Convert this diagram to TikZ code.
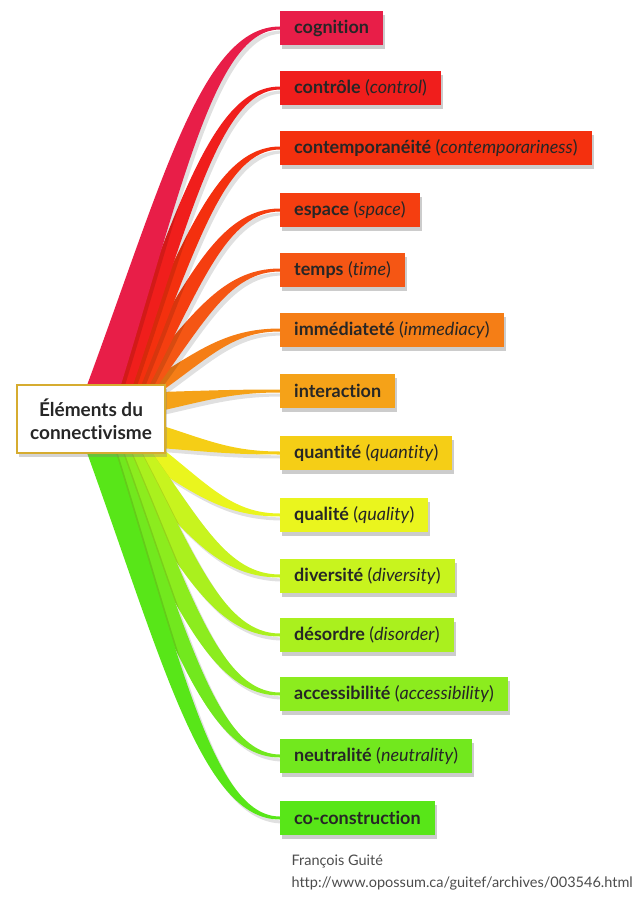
\documentclass[tikz,border=0pt]{standalone}
\usepackage{fontspec}
\setmainfont{Lato}[Ligatures=NoCommon]
\usetikzlibrary{calc,shadows}

\definecolor{ccogn}{RGB}{232,30,72}
\definecolor{cctrl}{RGB}{240,30,28}
\definecolor{cconT}{RGB}{244,48,14}
\definecolor{cespa}{RGB}{245,62,16}
\definecolor{ctemp}{RGB}{245,86,20}
\definecolor{cimme}{RGB}{245,126,22}
\definecolor{cinte}{RGB}{245,162,24}
\definecolor{cquan}{RGB}{245,206,22}
\definecolor{cqual}{RGB}{234,245,30}
\definecolor{cdive}{RGB}{200,244,30}
\definecolor{cdeso}{RGB}{170,240,30}
\definecolor{cacce}{RGB}{140,236,30}
\definecolor{cneut}{RGB}{114,232,30}
\definecolor{ccocon}{RGB}{88,230,24}
\definecolor{hubgold}{RGB}{214,172,48}

\pgfdeclarelayer{bg}
\pgfsetlayers{bg,main}

\newcommand{\trad}[1]{{\mdseries(\textit{#1})}}

% tapered ribbon from two base points to two end points
\newcommand{\ribbon}[5]{%
  \begin{scope}[transform canvas={shift={(3pt,-4pt)}}]
    \fill[black, opacity=0.12] let \p1=(#2), \p2=(#4), \p3=(#3), \p4=(#5) in
      (\p1) .. controls ({\x1+0.4*(\x2-\x1)},{\y1+0.58*(\y2-\y1)}) and ({\x1+0.6*(\x2-\x1)},\y2) .. (\p2)
      -- (\p4) .. controls ({\x3+0.6*(\x4-\x3)},\y4) and ({\x3+0.4*(\x4-\x3)},{\y3+0.58*(\y4-\y3)}) .. (\p3) -- cycle;
  \end{scope}
  \fill[#1] let \p1=(#2), \p2=(#4), \p3=(#3), \p4=(#5) in
    (\p1) .. controls ({\x1+0.4*(\x2-\x1)},{\y1+0.58*(\y2-\y1)}) and ({\x1+0.6*(\x2-\x1)},\y2) .. (\p2)
    -- (\p4) .. controls ({\x3+0.6*(\x4-\x3)},\y4) and ({\x3+0.4*(\x4-\x3)},{\y3+0.58*(\y4-\y3)}) .. (\p3) -- cycle;
}

\tikzset{
  elembox/.style={fill=#1, anchor=west, minimum height=34, inner xsep=14, inner ysep=0,
    text=black!85, font=\fontsize{18}{20}\selectfont\bfseries,
    drop shadow={shadow xshift=2pt, shadow yshift=-4pt, opacity=0.4}},
  hubbox/.style={fill=white, draw=hubgold, line width=2, minimum width=148, minimum height=68,
    align=center, text=black!85, font=\fontsize{19}{23}\selectfont\bfseries,
    drop shadow={shadow xshift=2pt, shadow yshift=-4pt, opacity=0.35}},
}

\begin{document}
\begin{tikzpicture}[x=1pt, y=-1pt]
    \useasboundingbox (0,0) rectangle (635,899);

    \node[hubbox] (hub) at (91,419) {Éléments du\\connectivisme};

    \node[elembox=ccogn]  (n1)  at (280,28)  {cognition};
    \node[elembox=cctrl]  (n2)  at (280,88)  {contrôle \trad{control}};
    \node[elembox=cconT]  (n3)  at (280,148) {contemporanéité \trad{contemporariness}};
    \node[elembox=cespa]  (n4)  at (280,210) {espace \trad{space}};
    \node[elembox=ctemp]  (n5)  at (280,270) {temps \trad{time}};
    \node[elembox=cimme]  (n6)  at (280,330) {immédiateté \trad{immediacy}};
    \node[elembox=cinte]  (n7)  at (280,391) {interaction};
    \node[elembox=cquan]  (n8)  at (280,453) {quantité \trad{quantity}};
    \node[elembox=cqual]  (n9)  at (280,515) {qualité \trad{quality}};
    \node[elembox=cdive]  (n10) at (280,576) {diversité \trad{diversity}};
    \node[elembox=cdeso]  (n11) at (280,635) {désordre \trad{disorder}};
    \node[elembox=cacce]  (n12) at (280,694) {accessibilité \trad{accessibility}};
    \node[elembox=cneut]  (n13) at (280,756) {neutralité \trad{neutrality}};
    \node[elembox=ccocon] (n14) at (280,818) {co-construction};

    % base points of the ribbons, under the hub
    \coordinate (a1) at (86,388);   \coordinate (b1) at (120,388);
    \coordinate (a2) at (108,388);  \coordinate (b2) at (132,388);
    \coordinate (a3) at (116,388);  \coordinate (b3) at (140,388);
    \coordinate (a4) at (123,388);  \coordinate (b4) at (148,388);
    \coordinate (a5) at (130,388);  \coordinate (b5) at (156,388);
    \coordinate (a6) at (138,388);  \coordinate (b6) at (166,388);
    \coordinate (a7) at (160,392);  \coordinate (b7) at (160,411);
    \coordinate (a8) at (160,425);  \coordinate (b8) at (160,448);
    \coordinate (a9) at (126,450);  \coordinate (b9) at (164,450);
    \coordinate (a10) at (112,450); \coordinate (b10) at (150,450);
    \coordinate (a11) at (105,450); \coordinate (b11) at (140,450);
    \coordinate (a12) at (98,450);  \coordinate (b12) at (130,450);
    \coordinate (a13) at (92,450);  \coordinate (b13) at (122,450);
    \coordinate (a14) at (86,450);  \coordinate (b14) at (115,450);

    \begin{pgfonlayer}{bg}
    \ribbon{cinte}{a7}{b7}{$(n7.west)+(0,-1.5)$}{$(n7.west)+(0,1.5)$}
    \ribbon{cquan}{a8}{b8}{$(n8.west)+(0,-1.5)$}{$(n8.west)+(0,1.5)$}
    \ribbon{cimme}{a6}{b6}{$(n6.west)+(0,-1.5)$}{$(n6.west)+(0,1.5)$}
    \ribbon{cqual}{a9}{b9}{$(n9.west)+(0,1.5)$}{$(n9.west)+(0,-1.5)$}
    \ribbon{ctemp}{a5}{b5}{$(n5.west)+(0,-1.5)$}{$(n5.west)+(0,1.5)$}
    \ribbon{cdive}{a10}{b10}{$(n10.west)+(0,1.5)$}{$(n10.west)+(0,-1.5)$}
    \ribbon{cespa}{a4}{b4}{$(n4.west)+(0,-1.5)$}{$(n4.west)+(0,1.5)$}
    \ribbon{cdeso}{a11}{b11}{$(n11.west)+(0,1.5)$}{$(n11.west)+(0,-1.5)$}
    \ribbon{cconT}{a3}{b3}{$(n3.west)+(0,-1.5)$}{$(n3.west)+(0,1.5)$}
    \ribbon{cacce}{a12}{b12}{$(n12.west)+(0,1.5)$}{$(n12.west)+(0,-1.5)$}
    \ribbon{cctrl}{a2}{b2}{$(n2.west)+(0,-1.5)$}{$(n2.west)+(0,1.5)$}
    \ribbon{cneut}{a13}{b13}{$(n13.west)+(0,1.5)$}{$(n13.west)+(0,-1.5)$}
    \ribbon{ccogn}{a1}{b1}{$(n1.west)+(0,-1.5)$}{$(n1.west)+(0,1.5)$}
    \ribbon{ccocon}{a14}{b14}{$(n14.west)+(0,1.5)$}{$(n14.west)+(0,-1.5)$}
    \end{pgfonlayer}

    \node[anchor=west, align=left, text=black!70, font=\fontsize{14.5}{22}\selectfont] (credit) at (288,873)
        {François Guité\\http://www.opossum.ca/guitef/archives/003546.html};
\end{tikzpicture}
\end{document}
